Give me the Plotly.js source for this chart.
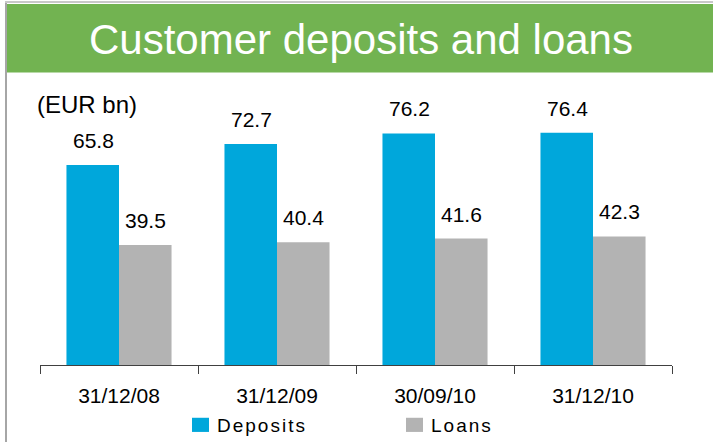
<!DOCTYPE html>
<html>
<head>
<meta charset="utf-8">
<script src="https://cdn.plot.ly/plotly-3.0.1.min.js"></script>
<style>
html, body { margin: 0; padding: 0; background: #fff; }
#chart { width: 713px; height: 442px; }
.legendtext { letter-spacing: 2px; }
.legendpoints path { transform: translate(23.5px, 0) scale(1.42, 1.18); }
</style>
</head>
<body>
<div id="chart"></div>
<script>
const categories = ["31/12/08", "31/12/09", "30/09/10", "31/12/10"];
const deposits = [65.8, 72.7, 76.2, 76.4];
const loans = [39.5, 40.4, 41.6, 42.3];
const seriesNames = ["Deposits", "Loans"];
const titleText = "Customer deposits and loans";
const unitText = "(EUR bn)";

const FONT = "Liberation Sans, Arial, sans-serif";
const blue = "#00A7DB";
const grey = "#B3B3B3";

const traces = [
  { type: "bar", name: seriesNames[0], x: categories, y: deposits, marker: { color: blue }, hoverinfo: "none" },
  { type: "bar", name: seriesNames[1], x: categories, y: loans, marker: { color: grey }, hoverinfo: "none" }
];

const annotations = [];
categories.forEach((c, i) => {
  annotations.push({ x: c, y: deposits[i], xref: "x", yref: "y", text: deposits[i].toFixed(1),
    showarrow: false, xshift: -26, yshift: 11, yanchor: "bottom", font: { family: FONT, size: 21, color: "#000" } });
  annotations.push({ x: c, y: loans[i], xref: "x", yref: "y", text: loans[i].toFixed(1),
    showarrow: false, xshift: 26, yshift: 11, yanchor: "bottom", font: { family: FONT, size: 21, color: "#000" } });
});
annotations.push({ x: (87 - 40) / 632, y: (367 - 105) / 277, xref: "paper", yref: "paper", text: unitText,
  showarrow: false, xanchor: "center", yanchor: "middle", font: { family: FONT, size: 24, color: "#000" } });

const layout = {
  width: 713, height: 442,
  margin: { l: 40, r: 41, t: 90, b: 77, autoexpand: false },
  paper_bgcolor: "#fff", plot_bgcolor: "rgba(0,0,0,0)",
  title: { text: titleText, font: { family: FONT, size: 42, color: "#fff" },
    xref: "container", yref: "container", x: 361 / 713, xanchor: "center", y: 1 - 39 / 442, yanchor: "middle" },
  barmode: "group", bargap: 0.335, bargroupgap: 0,
  xaxis: { type: "category", tickson: "boundaries", ticks: "outside", ticklen: 8, tickcolor: "#404040",
    showline: true, linecolor: "#404040", linewidth: 1, showgrid: false, zeroline: false,
    ticklabelstandoff: 12,
    tickfont: { family: FONT, size: 21, color: "#000" }, fixedrange: true, automargin: false },
  yaxis: { range: [0, 90.5], visible: false, showgrid: false, zeroline: false, fixedrange: true, automargin: false },
  showlegend: true,
  legend: { orientation: "h", xref: "container", yref: "container", x: 177 / 713, xanchor: "left",
    y: 1 - 425 / 442, yanchor: "middle",
    entrywidth: 169, entrywidthmode: "pixels", font: { family: FONT, size: 19, color: "#000" },
    bgcolor: "rgba(0,0,0,0)", itemclick: false, itemdoubleclick: false },
  annotations: annotations,
  shapes: [
    { type: "rect", xref: "paper", yref: "paper", x0: (7 - 40) / 632, x1: (713 - 40) / 632,
      y0: (365 - 72.5) / 275, y1: (365 - 4) / 275, fillcolor: "#72B351", line: { width: 0 }, layer: "below" },
    { type: "line", xref: "paper", yref: "paper", x0: (6 - 40) / 632, x1: (6 - 40) / 632,
      y0: (365 - 2) / 275, y1: (365 - 442) / 275, line: { color: "#A6A6A6", width: 2 } },
    { type: "line", xref: "paper", yref: "paper", x0: (5 - 40) / 632, x1: (713 - 40) / 632,
      y0: (365 - 2) / 275, y1: (365 - 2) / 275, line: { color: "#C8C8C8", width: 2 } }
  ]
};

Plotly.newPlot("chart", traces, layout, { displayModeBar: false, staticPlot: true });
</script>
</body>
</html>
